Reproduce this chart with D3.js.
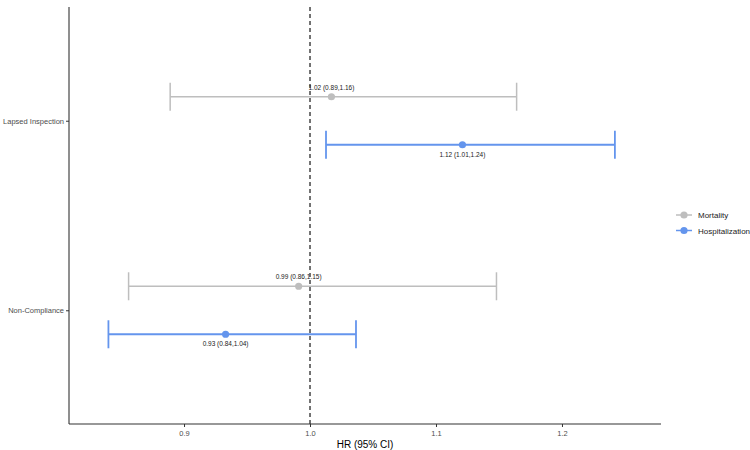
<!DOCTYPE html>
<html>
<head>
<meta charset="utf-8">
<script src="https://cdn.jsdelivr.net/npm/d3@7"></script>
<style>
  body { margin: 0; background: #fff; }
  text { font-family: "Liberation Sans", Arial, sans-serif; }
</style>
</head>
<body>
<div id="chart"></div>
<script>
// data
var exposures = ["Lapsed Inspection", "Non-Compliance"];
var outcomes = ["Mortality", "Hospitalization"];
var hr    = { "Mortality": [1.017, 0.991], "Hospitalization": [1.121, 0.933] };
var lower = { "Mortality": [0.889, 0.856], "Hospitalization": [1.0127, 0.840] };
var upper = { "Mortality": [1.164, 1.148], "Hospitalization": [1.242, 1.0365] };
var labels = {
  "Mortality": ["1.02 (0.89,1.16)", "0.99 (0.86,1.15)"],
  "Hospitalization": ["1.12 (1.01,1.24)", "0.93 (0.84,1.04)"]
};
var xTicks = [0.9, 1.0, 1.1, 1.2];
var colors = { "Mortality": "#BEBEBE", "Hospitalization": "#6495ED" };

var W = 750, H = 450;
var margin = {top: 7, right: 89, bottom: 26, left: 69};

var svg = d3.select("#chart").append("svg")
    .attr("width", W)
    .attr("height", H);

var x = d3.scaleLinear()
    .domain([0.8087, 1.2786])
    .range([margin.left, W - margin.right]);

// discrete axis with 0.6 unit expansion on each side
var y = d3.scalePoint()
    .domain(exposures)
    .range([margin.top, H - margin.bottom])
    .padding(0.6);

// offset within each category (mortality above, hospitalization below)
var off = d3.scalePoint()
    .domain(outcomes)
    .range([-24, 24]);

var rows = [];
outcomes.forEach(function (o) {
  exposures.forEach(function (e, i) {
    rows.push({outcome: o, exposure: e, hr: hr[o][i], lo: lower[o][i], hi: upper[o][i], label: labels[o][i]});
  });
});

function cy(d) { return y(d.exposure) + off(d.outcome); }

// reference line at 1
svg.append("line")
    .attr("x1", x(1)).attr("x2", x(1))
    .attr("y1", margin.top).attr("y2", H - margin.bottom)
    .attr("stroke", "#000")
    .attr("stroke-width", 1.1)
    .attr("stroke-dasharray", "4,3");

// error bars
var g = svg.selectAll("g.row")
    .data(rows)
    .enter().append("g")
    .attr("class", "row");

g.append("line")
    .attr("x1", d => x(d.lo)).attr("x2", d => x(d.hi))
    .attr("y1", cy).attr("y2", cy)
    .attr("stroke", d => colors[d.outcome])
    .attr("stroke-width", d => d.outcome === "Mortality" ? 1.5 : 1.8);

["lo", "hi"].forEach(function (k) {
  g.append("line")
      .attr("x1", d => x(d[k])).attr("x2", d => x(d[k]))
      .attr("y1", d => cy(d) - 14).attr("y2", d => cy(d) + 14)
      .attr("stroke", d => colors[d.outcome])
      .attr("stroke-width", d => d.outcome === "Mortality" ? 1.5 : 1.8);
});

g.append("circle")
    .attr("cx", d => x(d.hr))
    .attr("cy", cy)
    .attr("r", 3.6)
    .attr("fill", d => colors[d.outcome]);

g.append("text")
    .attr("x", d => x(d.hr))
    .attr("y", d => d.outcome === "Mortality" ? cy(d) - 7 : cy(d) + 12)
    .attr("text-anchor", "middle")
    .attr("font-size", "6.5px")
    .attr("fill", "#222")
    .text(d => d.label);

// axes
var xAxis = d3.axisBottom(x)
    .tickValues(xTicks)
    .tickFormat(d3.format(".1f"))
    .tickSize(3)
    .tickPadding(4);

var yAxis = d3.axisLeft(y)
    .tickSize(3)
    .tickPadding(2);

var xg = svg.append("g")
    .attr("transform", "translate(0," + (H - margin.bottom) + ")")
    .call(xAxis);
xg.select(".domain").attr("stroke", "#333").attr("stroke-width", 1.1).attr("d", "M" + margin.left + ",0H" + (W - margin.right));
xg.selectAll(".tick line").attr("stroke", "#333");
xg.selectAll(".tick text").attr("fill", "#4d4d4d").attr("font-size", "7.5px").attr("font-family", "Liberation Sans, Arial, sans-serif");

var yg = svg.append("g")
    .attr("transform", "translate(" + margin.left + ",0)")
    .call(yAxis);
yg.select(".domain").attr("stroke", "#333").attr("stroke-width", 1.1).attr("d", "M0," + margin.top + "V" + (H - margin.bottom));
yg.selectAll(".tick line").attr("stroke", "#333");
yg.selectAll(".tick text").attr("fill", "#4d4d4d").attr("font-size", "7.5px").attr("font-family", "Liberation Sans, Arial, sans-serif");

svg.append("text")
    .attr("x", (margin.left + W - margin.right) / 2)
    .attr("y", H - 2)
    .attr("text-anchor", "middle")
    .attr("font-size", "10px")
    .attr("fill", "#000")
    .text("HR (95% CI)");

// legend
var leg = svg.selectAll("g.legend")
    .data(outcomes)
    .enter().append("g")
    .attr("class", "legend")
    .attr("transform", (d, i) => "translate(676," + (215 + i * 15.5) + ")");

leg.append("line")
    .attr("x1", 0).attr("x2", 16)
    .attr("y1", 0).attr("y2", 0)
    .attr("stroke", d => colors[d])
    .attr("stroke-width", 1.5);

leg.append("circle")
    .attr("cx", 8).attr("cy", 0).attr("r", 3.6)
    .attr("fill", d => colors[d]);

leg.append("text")
    .attr("x", 22).attr("y", 3)
    .attr("font-size", "8px")
    .attr("fill", "#222")
    .text(d => d);
</script>
</body>
</html>
